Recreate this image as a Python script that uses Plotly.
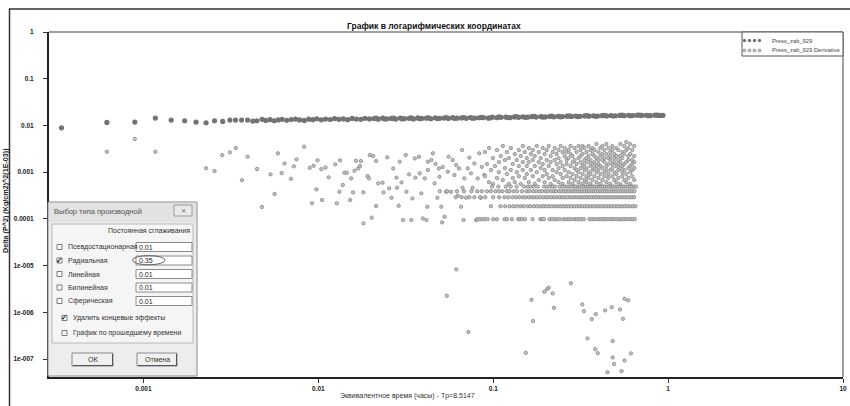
import plotly.graph_objects as go

# ------------------------------------------------------------------ data
# Press_zab_929 (pressure difference)
main_early_x = [0.00034, 0.000618, 0.000893, 0.00117, 0.00144, 0.00172, 0.0020, 0.00228, 0.00255,
                0.00284, 0.00312, 0.00336, 0.00364, 0.00394, 0.00422, 0.00445, 0.00477]
main_early_y = [0.0089, 0.0116, 0.0118, 0.0144, 0.0130, 0.0126, 0.0118, 0.0114, 0.0126,
                0.0122, 0.0130, 0.0130, 0.0130, 0.0130, 0.0124, 0.0126, 0.0135]
main_band_x = [0.0050, 0.0053, 0.0056, 0.0059, 0.0062, 0.0066, 0.0070, 0.0074, 0.0078, 0.0083,
               0.0088, 0.0093, 0.0098, 0.0104, 0.0110, 0.0117, 0.0124, 0.0131, 0.0139, 0.0147,
               0.0156, 0.0165, 0.0175, 0.0185, 0.0196, 0.0208, 0.0220, 0.0233, 0.0247, 0.0262,
               0.0277, 0.0294, 0.0311, 0.0330, 0.0350, 0.0370, 0.0390, 0.0415, 0.0440, 0.0466,
               0.0494, 0.0523, 0.0554, 0.0587, 0.0622, 0.0660, 0.0700, 0.0740, 0.0785, 0.0830,
               0.0880, 0.0935, 0.0990, 0.1050, 0.1110, 0.1180, 0.1250, 0.1320, 0.1400, 0.1480,
               0.157, 0.166, 0.176, 0.187, 0.198, 0.210, 0.222, 0.235, 0.249, 0.264,
               0.280, 0.296, 0.314, 0.333, 0.353, 0.374, 0.396, 0.420, 0.445, 0.471,
               0.500, 0.530, 0.560, 0.594, 0.630, 0.667, 0.707, 0.750, 0.794, 0.842,
               0.890, 0.935]
main_band_y = [0.0128, 0.0133, 0.0126, 0.0131, 0.0135, 0.0129, 0.0134, 0.0137, 0.0131, 0.0128,
               0.0136, 0.0133, 0.0139, 0.0132, 0.0137, 0.0134, 0.0140, 0.0135, 0.0138, 0.0133,
               0.0141, 0.0137, 0.0135, 0.0142, 0.0138, 0.0140, 0.0136, 0.0143, 0.0139, 0.0141,
               0.0137, 0.0144, 0.0140, 0.0142, 0.0138, 0.0145, 0.0141, 0.0143, 0.0139, 0.0146,
               0.0142, 0.0144, 0.0141, 0.0147, 0.0143, 0.0145, 0.0142, 0.0148, 0.0144, 0.0146,
               0.0147, 0.0144, 0.0150, 0.0146, 0.0149, 0.0151, 0.0147, 0.0152, 0.0149, 0.0153,
               0.0150, 0.0154, 0.0151, 0.0155, 0.0152, 0.0156, 0.0153, 0.0157, 0.0155, 0.0158,
               0.0156, 0.0159, 0.0157, 0.0160, 0.0158, 0.0161, 0.0159, 0.0162, 0.0160, 0.0163,
               0.0161, 0.0164, 0.0162, 0.0165, 0.0163, 0.0166, 0.0164, 0.0165, 0.0163, 0.0166,
               0.0164, 0.0165]
main_fill_x = [0.0214, 0.024, 0.027, 0.0302, 0.034, 0.038, 0.0427, 0.048, 0.0538, 0.06,
               0.068, 0.076, 0.0855, 0.096, 0.108, 0.1215, 0.136, 0.1525, 0.171, 0.192,
               0.216, 0.242, 0.272, 0.305, 0.343, 0.385, 0.432, 0.485, 0.545, 0.612,
               0.687, 0.772, 0.866, 0.92]
main_fill_y = [0.0143, 0.0137, 0.0144, 0.0138, 0.0145, 0.0139, 0.0146, 0.0140, 0.0147, 0.0142,
               0.0148, 0.0143, 0.0149, 0.0145, 0.0152, 0.0147, 0.0154, 0.0149, 0.0156, 0.0151,
               0.0158, 0.0153, 0.0160, 0.0155, 0.0162, 0.0157, 0.0164, 0.0159, 0.0166, 0.0161,
               0.0167, 0.0162, 0.0167, 0.0163]

# Press_zab_929 Derivative
deriv_early_x = [0.000618, 0.000893, 0.00117, 0.00228, 0.00255, 0.00282, 0.00312, 0.00337, 0.00366,
                 0.00394, 0.00446, 0.00476, 0.00533, 0.00562, 0.00587, 0.00617, 0.00641, 0.00697,
                 0.00724, 0.0075, 0.0083]
deriv_early_y = [0.00273, 0.00512, 0.00273, 0.00121, 0.00106, 0.00232, 0.00265, 0.00328, 0.00067,
                 0.00214, 0.00117, 0.000179, 0.000897, 0.00034, 0.00253, 0.000957, 0.00154, 0.000722,
                 0.00133, 0.00188, 0.0035]
deriv_mid_x = [0.00893, 0.0094, 0.0099, 0.00975, 0.0092, 0.0105, 0.0104, 0.011, 0.01146, 0.0125,
               0.01276, 0.0132, 0.0133, 0.0138, 0.0141, 0.01455, 0.0152, 0.0154, 0.0158, 0.0161,
               0.0164, 0.0169, 0.0173, 0.0175, 0.0181, 0.0181, 0.0191, 0.0195, 0.0197, 0.0202,
               0.0206, 0.0214, 0.0214, 0.022, 0.0233, 0.0236, 0.0248, 0.0254, 0.0262, 0.0268,
               0.028, 0.0282, 0.0288, 0.0292, 0.0299, 0.0305, 0.0316, 0.0319, 0.033, 0.034,
               0.0345, 0.0356, 0.0359, 0.0376, 0.038, 0.0388, 0.0396, 0.0406, 0.0415, 0.042,
               0.0423, 0.0423, 0.0443, 0.0452, 0.0462, 0.0468, 0.0479, 0.0489, 0.0493, 0.0505,
               0.051, 0.0527, 0.0514, 0.0538, 0.055, 0.0556, 0.0574, 0.0586, 0.06, 0.0614,
               0.0627, 0.0638, 0.0655, 0.0664, 0.0668, 0.0676, 0.0684, 0.07, 0.0715, 0.0731,
               0.0746, 0.0762, 0.078, 0.0798, 0.0815, 0.0832, 0.0851, 0.0861, 0.0889]
deriv_mid_y = [0.00124, 0.00137, 0.00179, 0.000428, 0.000215, 0.000253, 0.00116, 0.00126, 0.000774, 0.00147,
               0.000215, 0.00038, 0.00179, 0.00053, 0.00097, 0.00097, 0.000253, 0.000736, 0.000369, 0.00107,
               0.00175, 0.0012, 0.00135, 0.00173, 0.000369, 0.00008, 0.000824, 0.000736, 0.00232, 0.000106,
               0.00221, 0.000188, 0.00173, 0.000575, 0.000593, 0.000369, 0.00207, 0.00045, 0.000283, 0.0012,
               0.000759, 0.000463, 0.000191, 0.00167, 0.000604, 0.000094, 0.00232, 0.00038, 0.000897, 0.000094,
               0.000274, 0.00197, 0.000759, 0.00214, 0.000942, 0.000351, 0.000102, 0.000736, 0.000094, 0.000182,
               0.00111, 0.00167, 0.00182, 0.00253, 0.000575, 0.00149, 0.000283, 0.0012, 0.000798, 0.000182,
               0.000084, 0.000111, 0.00129, 0.00038, 0.00102, 0.00214, 0.00038, 0.00182, 0.000867, 0.00142,
               0.000313, 0.0012, 0.000182, 0.00297, 0.000463, 0.000094, 0.000736, 0.000283, 0.0012, 0.00204,
               0.000942, 0.000463, 0.00154, 0.000094, 0.000736, 0.00253, 0.000283, 0.0013, 0.000867]
# dense cloud: (time, [derivative values at that time])
deriv_cloud = [
    (0.0897, [0.00269, 0.00082]), (0.0920, [0.00149]), (0.0946, [0.00328, 0.00061]),
    (0.0971, [0.00111]), (0.0996, [0.00200, 0.00056]), (0.1023, [0.00135]),
    (0.1050, [0.00297, 0.00075]), (0.1077, [0.00164, 0.00100]), (0.1106, [0.00221]),
    (0.1135, [0.00362, 0.00068]), (0.1166, [0.00122, 0.00182]), (0.1197, [0.00091, 0.00269]),
    (0.1228, [0.00200, 0.00056]), (0.1261, [0.00328, 0.00111]), (0.1294, [0.00149, 0.00075]),
    (0.1329, [0.00244, 0.00061]), (0.1364, [0.00182, 0.00100]), (0.1401, [0.00297, 0.00082, 0.00135]),
    (0.1438, [0.00221, 0.00056]), (0.1476, [0.00362, 0.00111, 0.00164]), (0.1515, [0.00269, 0.00075]),
    (0.1556, [0.00200, 0.00091, 0.00135]), (0.1597, [0.00328, 0.00061, 0.00164]), (0.1640, [0.00244, 0.00111]),
    (0.1683, [0.00182, 0.00082, 0.00297]), (0.1728, [0.00135, 0.00056, 0.00221]), (0.1774, [0.00362, 0.00100]),
    (0.1821, [0.00269, 0.00164, 0.00068]), (0.1869, [0.00200, 0.00122]), (0.1919, [0.00328, 0.00082, 0.00149]),
    (0.1970, [0.00244, 0.00061, 0.00111]), (0.2022, [0.00182, 0.00297, 0.00091]),
    (0.2076, [0.00362, 0.00135, 0.00075]), (0.2131, [0.00221, 0.00056, 0.00164]),
    (0.2188, [0.00269, 0.00111, 0.00082]), (0.2246, [0.00328, 0.00182, 0.00068]),
    (0.2305, [0.00149, 0.00244, 0.00100]), (0.2366, [0.00200, 0.00122, 0.00061, 0.00297]),
    (0.2429, [0.00362, 0.00091, 0.00164]), (0.2494, [0.00269, 0.00075, 0.00135, 0.00056]),
    (0.2560, [0.00221, 0.00111, 0.00328]), (0.2628, [0.00182, 0.00082, 0.00149, 0.00269]),
    (0.2698, [0.00297, 0.00100, 0.00061, 0.00200]), (0.2769, [0.00362, 0.00135, 0.00075, 0.00244]),
    (0.2843, [0.00164, 0.00221, 0.00091, 0.00056]), (0.2918, [0.00328, 0.00122, 0.00068, 0.00182]),
    (0.2996, [0.00269, 0.00149, 0.00082, 0.00111]), (0.3075, [0.00200, 0.00362, 0.00100, 0.00061]),
    (0.3157, [0.00297, 0.00164, 0.00075, 0.00122, 0.00221]), (0.3241, [0.00244, 0.00135, 0.00056, 0.00091, 0.00362]),
    (0.3327, [0.00182, 0.00328, 0.00111, 0.00068, 0.00149]), (0.3415, [0.00269, 0.00200, 0.00082, 0.00122, 0.00061]),
    (0.3506, [0.00362, 0.00164, 0.00100, 0.00221, 0.00075]), (0.3599, [0.00297, 0.00135, 0.00056, 0.00182, 0.00091]),
    (0.3694, [0.00328, 0.00244, 0.00111, 0.00068, 0.00149]), (0.3792, [0.00221, 0.00164, 0.00082, 0.00122, 0.00297]),
    (0.3893, [0.00400, 0.00200, 0.00100, 0.00061, 0.00135]), (0.3996, [0.00269, 0.00149, 0.00075, 0.00182, 0.00111]),
    (0.4102, [0.00328, 0.00221, 0.00091, 0.00056, 0.00135]), (0.4211, [0.00362, 0.00182, 0.00122, 0.00068, 0.00244]),
    (0.4323, [0.00297, 0.00164, 0.00082, 0.00200, 0.00100]), (0.4437, [0.00400, 0.00244, 0.00135, 0.00061, 0.00111]),
    (0.4555, [0.00328, 0.00200, 0.00091, 0.00149, 0.00075]), (0.4676, [0.00269, 0.00182, 0.00111, 0.00056, 0.00221]),
    (0.4800, [0.00362, 0.00149, 0.00082, 0.00297, 0.00122]), (0.4927, [0.00244, 0.00164, 0.00068, 0.00100, 0.00200]),
    (0.5058, [0.00328, 0.00135, 0.00091, 0.00221, 0.00061]), (0.5192, [0.00297, 0.00182, 0.00111, 0.00075, 0.00149]),
    (0.5330, [0.00400, 0.00221, 0.00122, 0.00056, 0.00164]), (0.5471, [0.00269, 0.00200, 0.00082, 0.00135, 0.00100]),
    (0.5616, [0.00362, 0.00149, 0.00068, 0.00244, 0.00111]), (0.5765, [0.00441, 0.00297, 0.00164, 0.00091, 0.00061]),
    (0.5918, [0.00328, 0.00221, 0.00122, 0.00075, 0.00182]), (0.6075, [0.00400, 0.00244, 0.00135, 0.00056, 0.00100]),
    (0.6236, [0.00297, 0.00182, 0.00082, 0.00149, 0.00111]), (0.6401, [0.00362, 0.00221, 0.00122, 0.00068, 0.00164]),
]
# horizontal "quantised" bands of the derivative
band_levels = [0.00049, 0.00039, 0.00029, 0.000186, 0.0000985]
band1_x = [0.0985, 0.107, 0.118, 0.126, 0.136, 0.150, 0.158, 0.164, 0.171, 0.180, 0.195, 0.202,
           0.210, 0.219, 0.226, 0.240, 0.249, 0.256, 0.265, 0.273, 0.281, 0.290, 0.297, 0.305,
           0.313, 0.321, 0.330, 0.338, 0.347, 0.355, 0.364, 0.373, 0.383, 0.393, 0.403, 0.413,
           0.424, 0.435, 0.446, 0.458, 0.470, 0.482, 0.494, 0.507, 0.520, 0.534, 0.548, 0.562,
           0.577, 0.592, 0.607, 0.623, 0.640, 0.655]
band2_x = [0.0495, 0.0545, 0.062, 0.068, 0.075, 0.081, 0.086, 0.092, 0.097, 0.103, 0.108, 0.113,
           0.12, 0.124, 0.131, 0.137, 0.146, 0.155, 0.161, 0.169, 0.176, 0.184, 0.19, 0.199,
           0.205, 0.214, 0.222, 0.229, 0.238, 0.246, 0.254, 0.262, 0.27, 0.279, 0.288, 0.296,
           0.305, 0.315, 0.324, 0.334, 0.344, 0.354, 0.365, 0.376, 0.387, 0.399, 0.411, 0.423,
           0.436, 0.449, 0.463, 0.477, 0.491, 0.506, 0.521, 0.537, 0.553, 0.57, 0.587, 0.605,
           0.623, 0.642]
band3_x = [0.061, 0.066, 0.073, 0.078, 0.084, 0.09, 0.1, 0.108, 0.116, 0.122, 0.129, 0.135,
           0.141, 0.148, 0.153, 0.16, 0.166, 0.172, 0.178, 0.185, 0.193, 0.2, 0.207, 0.215,
           0.223, 0.231, 0.24, 0.248, 0.257, 0.266, 0.275, 0.284, 0.293, 0.303, 0.313, 0.323,
           0.333, 0.343, 0.354, 0.365, 0.377, 0.389, 0.401, 0.414, 0.427, 0.441, 0.455, 0.469,
           0.484, 0.499, 0.515, 0.531, 0.548, 0.565, 0.583, 0.602, 0.621, 0.64]
band4_x = [0.097, 0.11, 0.117, 0.124, 0.13, 0.136, 0.143, 0.149, 0.157, 0.163, 0.171, 0.178,
           0.186, 0.193, 0.2, 0.208, 0.216, 0.225, 0.233, 0.242, 0.251, 0.26, 0.27, 0.28,
           0.29, 0.301, 0.312, 0.323, 0.335, 0.347, 0.36, 0.373, 0.386, 0.4, 0.414, 0.429,
           0.444, 0.46, 0.476, 0.493, 0.511, 0.529, 0.548, 0.567, 0.587, 0.608, 0.63, 0.65]
band5_x = [0.081, 0.084, 0.087, 0.09, 0.093, 0.1, 0.105, 0.116, 0.12, 0.128, 0.139, 0.142,
           0.146, 0.152, 0.168, 0.186, 0.19, 0.195, 0.21, 0.218, 0.225, 0.232, 0.24, 0.252,
           0.26, 0.27, 0.28, 0.292, 0.3, 0.31, 0.32, 0.33, 0.355, 0.365, 0.376, 0.39,
           0.4, 0.412, 0.424, 0.437, 0.45, 0.463, 0.478, 0.492, 0.507, 0.523, 0.54, 0.556,
           0.573, 0.59, 0.61, 0.628, 0.645]
# low outliers of the derivative
deriv_low_x = [0.0615, 0.0543, 0.0721, 0.1535, 0.1655, 0.169, 0.196, 0.203, 0.2075, 0.2188, 0.2225,
               0.278, 0.323, 0.33, 0.346, 0.366, 0.383, 0.386, 0.396, 0.4365, 0.45, 0.4757,
               0.482, 0.482, 0.491, 0.531, 0.542, 0.552, 0.5636, 0.5636, 0.591, 0.613]
deriv_low_y = [8.3e-6, 2.26e-6, 3.77e-7, 1.36e-7, 1.85e-6, 6.5e-7, 2.75e-6, 3.14e-6, 3.35e-6, 2.54e-6, 1.25e-6,
               4.2e-6, 1.47e-6, 1.06e-6, 2.76e-7, 7.14e-7, 1.63e-7, 9.14e-7, 1.34e-7, 1.1e-6, 5.2e-8, 1.29e-6,
               2.42e-7, 1.08e-7, 7.8e-8, 1.15e-6, 5.5e-8, 7.26e-7, 9.3e-8, 1.95e-6, 1.8e-6, 1.32e-7]

x_tick_vals = [0.001, 0.01, 0.1, 1, 10]
x_tick_text = ["0.001", "0.01", "0.1", "1", "10"]
y_tick_vals = [1, 0.1, 0.01, 0.001, 0.0001, 1e-5, 1e-6, 1e-7]
y_tick_text = ["1", "0.1", "0.01", "0.001", "0.0001", "1e-005", "1e-006", "1e-007"]

# ------------------------------------------------------------------ assemble series
main_x = main_early_x + main_band_x + main_fill_x
main_y = main_early_y + main_band_y + main_fill_y

cloud_x, cloud_y = [], []
for t, vals in deriv_cloud:
    for v in vals:
        cloud_x.append(t)
        cloud_y.append(v)
band_x, band_y = [], []
for lvl, xs in zip(band_levels, [band1_x, band2_x, band3_x, band4_x, band5_x]):
    band_x += xs
    band_y += [lvl] * len(xs)

deriv_x = deriv_early_x + deriv_mid_x + cloud_x + band_x + deriv_low_x
deriv_y = deriv_early_y + deriv_mid_y + cloud_y + band_y + deriv_low_y

MAIN_C = "#737373"
DER_FILL = "#c4c4c4"
DER_LINE = "#7a7a7a"

fig = go.Figure()
fig.add_trace(go.Scatter(x=main_x, y=main_y, mode="markers", name="Press_zab_929",
                         marker=dict(symbol="circle", size=5.2, color=MAIN_C, line=dict(width=0)),
                         showlegend=False))
fig.add_trace(go.Scatter(x=deriv_x, y=deriv_y, mode="markers", name="Press_zab_929 Derivative",
                         marker=dict(symbol="circle", size=3.4, color=DER_FILL,
                                     line=dict(width=0.7, color=DER_LINE)),
                         showlegend=False))

# ------------------------------------------------------------------ layout helpers
W_, H_ = 850, 406
L, R, T, B = 49, 843, 32, 377          # plot area in page pixels
PW, PH = R - L, B - T


def X(px):
    return (px - L) / PW


def Y(py):
    return (B - py) / PH


shapes, ann = [], []
FONT = "Liberation Sans"


def rect(x0, y0, x1, y1, fill="rgba(0,0,0,0)", line="#888", width=1):
    shapes.append(dict(type="rect", xref="paper", yref="paper", x0=X(x0), x1=X(x1),
                       y0=Y(y1), y1=Y(y0), fillcolor=fill,
                       line=dict(color=line, width=width), layer="above"))


def hline(x0, x1, y, color, width=1):
    shapes.append(dict(type="line", xref="paper", yref="paper", x0=X(x0), x1=X(x1),
                       y0=Y(y), y1=Y(y), line=dict(color=color, width=width), layer="above"))


def vline(x, y0, y1, color, width=1):
    shapes.append(dict(type="line", xref="paper", yref="paper", x0=X(x), x1=X(x),
                       y0=Y(y0), y1=Y(y1), line=dict(color=color, width=width), layer="above"))


def text(px, py, s, size=7, color="#333", anchor="left", weight="normal", angle=0):
    ann.append(dict(xref="paper", yref="paper", x=X(px), y=Y(py), text=s, showarrow=False,
                    xanchor=anchor, yanchor="middle", textangle=angle, borderpad=0,
                    font=dict(size=size, color=color, family=FONT, weight=weight)))


def dot(px, py, r, fill, line, lw):
    shapes.append(dict(type="circle", xref="paper", yref="paper", xsizemode="pixel",
                       ysizemode="pixel", xanchor=X(px), yanchor=Y(py), x0=-r, x1=r, y0=-r, y1=r,
                       fillcolor=fill, line=dict(color=line, width=lw), layer="above"))


# outer picture frame
hline(9, 852, 9, "#333", 1.5)
vline(9.5, 9, 410, "#333", 1.5)
# thin top / right frame of the plot area
hline(L, R, T, "#444", 1)
vline(R, T, B, "#444", 1)

# titles
text(434, 26, "График в логарифмических координатах", size=8.5, color="#111", anchor="center", weight="bold")
text(407, 396, "Эквивалентное время (часы) - Tp=8.5147", size=7, color="#333", anchor="center")
text(5, 201, "Delta (P^2) (Kg/cm2)^2(1E-03))", size=7.2, color="#222", anchor="center",
     weight="bold", angle=-90)

# custom legend
rect(742, 32, 843, 56, fill="white", line="#555", width=1)
for cx in (744.5, 749.5, 754.5, 759.5):
    dot(cx, 40.5, 1.7, MAIN_C, MAIN_C, 0)
    dot(cx, 50.5, 1.4, DER_FILL, DER_LINE, 0.7)
text(771, 40.5, "Press_zab_929", size=5.8, color="#444")
text(771, 50.5, "Press_zab_929 Derivative", size=5.8, color="#444")

# ------------------------------------------------------------------ dialog window
rect(48, 202, 197, 376, fill="#ededed", line="#8c8c8c", width=1)
rect(49, 203, 196, 222, fill="#e2e2e2", line="#e2e2e2", width=0)
text(53, 211, "Выбор типа производной", size=7.5, color="#555")
rect(174, 205, 192, 216, fill="#e9e9e9", line="#9a9a9a", width=1)
text(183, 210.5, "✕", size=6, color="#666", anchor="center")
rect(52, 224, 193, 343, fill="#f5f5f5", line="#b8b8b8", width=1)
text(191, 230, "Постоянная сглаживания", size=7, color="#333", anchor="right")

rows = [("Псевдостационарная", 247, False, "0.01"),
        ("Радиальная", 260.5, True, "0.35"),
        ("Линейная", 274, False, "0.01"),
        ("Билинейная", 287.5, False, "0.01"),
        ("Сферическая", 301, False, "0.01")]
for label, cy, checked, val in rows:
    rect(57, cy - 2.5, 62, cy + 2.5, fill="white", line="#7a7a7a", width=1)
    if checked:
        text(59.8, cy - 0.5, "✓", size=8, color="#222", anchor="center", weight="bold")
    text(67, cy, label, size=7, color="#333")
    rect(136, cy - 4.5, 192, cy + 4.5, fill="white", line="#8a8a8a", width=1)
    text(137.5, cy, val, size=7, color="#222")
shapes.append(dict(type="circle", xref="paper", yref="paper", x0=X(132.5), x1=X(165),
                   y0=Y(264.8), y1=Y(255.6), line=dict(color="#666", width=1), layer="above"))

for label, cy, checked in [("Удалить концевые эффекты", 318, True),
                           ("График по прошедшему времени", 333, False)]:
    rect(62, cy - 2.5, 67, cy + 2.5, fill="white", line="#7a7a7a", width=1)
    if checked:
        text(64.8, cy - 0.5, "✓", size=8, color="#222", anchor="center", weight="bold")
    text(72, cy, label, size=7, color="#333")

for x0, x1, label in [(72, 113, "OK"), (137, 177, "Отмена")]:
    rect(x0, 353, x1, 366, fill="#f0f0f0", line="#8a8a8a", width=1)
    hline(x0 + 1, x1, 365.5, "#555", 1)
    vline(x1 - 0.5, 354, 366, "#555", 1)
    text((x0 + x1) / 2, 359.5, label, size=7, color="#333", anchor="center")

# ------------------------------------------------------------------ axes / layout
axis_font = dict(size=6.5, color="#222", family=FONT, weight="bold")
fig.update_layout(
    width=W_, height=H_, autosize=False,
    margin=dict(l=L, r=W_ - R, t=T, b=H_ - B, pad=0, autoexpand=False),
    paper_bgcolor="white", plot_bgcolor="white",
    showlegend=False, hovermode=False,
    shapes=shapes, annotations=ann,
    xaxis=dict(type="log", range=[-3.54, 1.0], tickvals=x_tick_vals, ticktext=x_tick_text,
               ticks="outside", ticklen=4, tickcolor="#333", tickwidth=1, automargin=False,
               showline=True, linewidth=2, linecolor="#222", showgrid=False, zeroline=False,
               tickfont=axis_font),
    yaxis=dict(type="log", range=[-7.385, 0.0], tickvals=y_tick_vals, ticktext=y_tick_text,
               ticks="outside", ticklen=4, tickcolor="#333", tickwidth=1, automargin=False,
               showline=True, linewidth=2, linecolor="#222", showgrid=False, zeroline=False,
               tickfont=axis_font, ticklabelstandoff=8),
)

# the page's default 8 px body margin would shift the 850x406 figure; remove it
fig.write_html("out.html", config={"displayModeBar": False},
               post_script="document.body.style.margin='0px';")
